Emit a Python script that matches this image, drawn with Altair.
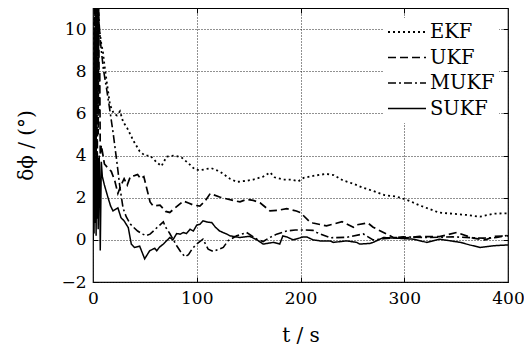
import altair as alt
import pandas as pd

# ---------------- data ----------------
EKF_T = [0, 0.5, 1, 1.5, 2, 2.5, 3, 3.5, 4, 5, 6, 7, 8, 9.6, 11, 13.5, 16.4, 20, 23, 26, 29, 33, 39, 45,
         50, 55, 61, 66, 71, 79, 85.5, 91.6, 98, 103, 108, 114, 122, 132, 138.5, 148, 154.5, 164, 170.6,
         175, 183, 191.5, 198, 203, 214, 225, 232, 241, 251, 260.5, 270, 281, 292.7, 299, 305.5, 315,
         325, 333, 344, 360, 373, 386, 397, 400]
EKF_Y = [0, 5, 10.5, 3, 11.5, 6, 11.5, 8, 11.2, 10.6, 10.0, 9.7, 9.3, 8.9, 8.3, 7.4, 6.4, 6.0, 5.9, 6.1,
         5.6, 5.3, 4.7, 4.2, 4.0, 4.0, 3.7, 3.5, 3.95, 4.0, 3.9, 3.65, 3.35, 3.3, 3.35, 3.4, 3.25, 2.9,
         2.75, 2.8, 2.86, 3.0, 3.2, 2.97, 2.86, 2.86, 2.78, 2.94, 3.05, 3.13, 3.07, 2.82, 2.66, 2.47, 2.32,
         2.12, 2.05, 1.95, 1.84, 1.63, 1.45, 1.3, 1.25, 1.18, 1.1, 1.24, 1.26, 1.26]

UKF_T = [0, 0.5, 1, 1.5, 2, 2.5, 3, 3.5, 4, 4.5, 5, 5.5, 6, 6.5, 7, 8, 11, 14.5, 17.6, 21, 24, 27, 30,
         33, 36, 40, 43, 46, 49, 52, 55, 58, 64.6, 70, 74, 80, 87, 92, 96.7, 103, 108, 113, 122, 135,
         141.7, 148, 154.5, 161, 170.6, 178, 186.7, 196, 200, 209, 212, 225, 240, 251, 254, 265, 270,
         280, 289.5, 302, 315, 334, 350.5, 366.5, 378, 387.5, 400]
UKF_Y = [0, 8, 2, 11.5, 4, 11.5, 3, 10, 2, 9, 5, 11.5, 6, 8, 4, 4.5, 3.6, 3.4, 3.25, 2.8, 2.2, 2.6, 2.9,
         2.6, 3.0, 3.05, 3.1, 2.9, 3.0, 2.4, 1.8, 1.6, 1.65, 1.35, 1.3, 1.55, 1.84, 1.75, 1.65, 1.6, 1.84,
         2.2, 2.03, 1.87, 1.8, 1.92, 1.87, 1.76, 1.37, 1.4, 1.48, 1.37, 1.29, 0.85, 0.8, 0.66, 0.86, 0.6,
         0.71, 0.8, 0.6, 0.35, 0.11, 0.1, 0.16, 0.15, 0.35, 0.08, 0.0, 0.17, 0.19]

MUKF_T = [0, 0.5, 1, 1.5, 2, 2.5, 3, 3.5, 4, 4.5, 5, 5.5, 6, 7, 8, 10, 13, 16.4, 19.6, 23, 26, 29, 32,
          36, 39, 43, 48, 51, 55, 61, 67.8, 70, 74, 80.7, 85, 88.7, 92, 96, 100, 106, 111, 116, 121,
          125.6, 130, 138.5, 148, 158, 164, 170, 177, 186.7, 195, 202.7, 212, 215.6, 228.4, 244.5,
          260.5, 270, 280, 299, 321.6, 347, 376, 389, 400]
MUKF_Y = [0, 6, 1, 9, 2, 10.5, 4, 11.5, 6, 11.2, 9, 10.8, 10.2, 9.5, 9.0, 8.1, 7.2, 6.1, 5.0, 3.7, 2.47,
          1.5, 1.1, 0.75, 0.6, 0.42, 0.27, 0.2, 0.27, 0.55, 0.85, 0.6, 0.3, -0.28, -0.6, -0.8, -0.7, -0.4,
          -0.2, 0.03, -0.44, -0.55, -0.45, -0.36, -0.05, 0.19, 0.35, 0.03, -0.08, 0.1, 0.27, 0.42, 0.47,
          0.47, 0.45, 0.35, 0.1, 0.12, 0.28, 0.0, 0.05, 0.14, 0.11, 0.14, 0.08, 0.11, 0.22]

SUKF_T = [0, 0.5, 1, 1.5, 2, 2.5, 3, 3.5, 4, 4.5, 5, 5.5, 6, 6.5, 7, 7.5, 8, 9, 11, 14.5, 17, 19.3, 24,
          27, 30, 34, 36.9, 40, 45, 49.8, 54.6, 59.5, 61.4, 64, 67.8, 74, 77, 80.7, 84, 87, 90, 93.5,
          96.7, 100, 103, 106, 109.6, 114.4, 118, 122, 129, 132, 141.7, 151, 158, 164, 174, 180, 183,
          186.7, 193, 202.7, 206, 212, 219, 228.4, 231.6, 244.5, 254, 257, 267, 270, 280, 292.7, 309,
          321.6, 334, 345, 354, 363, 373, 386, 400]
SUKF_Y = [0, 3.5, 0.3, 4.0, 0.8, 3.8, 0.2, 4.1, 1.0, 3.9, 0.5, 3.0, 4.0, 2.5, -0.5, 1.5, 3.7, 3.0, 2.6,
          2.0, 1.6, 1.37, 1.52, 1.05, 0.9, 0.58, -0.2, -0.36, -0.3, -0.9, -0.52, -0.4, -0.52, -0.35,
          -0.2, 0.11, 0.0, 0.3, 0.27, 0.35, 0.3, 0.5, 0.42, 0.7, 0.74, 0.9, 0.85, 0.82, 0.6, 0.42, 0.27,
          0.19, 0.11, 0.17, 0.0, -0.2, -0.12, -0.2, 0.19, 0.14, 0.0, 0.14, 0.14, 0.0, -0.05, -0.05,
          -0.12, -0.05, -0.12, -0.2, -0.17, -0.12, 0.11, 0.08, 0.03, -0.12, 0.03, -0.05, -0.12, -0.24,
          -0.36, -0.28, -0.24]

SERIES = ["EKF", "UKF", "MUKF", "SUKF"]
X_TICKS = [0, 100, 200, 300, 400]
Y_TICKS = [-2, 0, 2, 4, 6, 8, 10]

frames = []
for name, ts, ys in [("EKF", EKF_T, EKF_Y), ("UKF", UKF_T, UKF_Y),
                     ("MUKF", MUKF_T, MUKF_Y), ("SUKF", SUKF_T, SUKF_Y)]:
    frames.append(pd.DataFrame({"t": ts, "v": ys, "series": name}))
df = pd.concat(frames, ignore_index=True)

FONT = "DejaVu Serif"
xs = alt.Scale(domain=[0, 400], nice=False, zero=False)
ys_ = alt.Scale(domain=[-2, 11], nice=False, zero=False)

main_x_axis = alt.Axis(values=X_TICKS, tickSize=0, domain=False, grid=True, labelFlush=False,
                       gridDash=[1, 2], gridColor="#222", gridWidth=1,
                       labelFontSize=17, labelColor="black", labelPadding=8,
                       title="t / s", titleFontSize=20, titleFontWeight="normal",
                       titleColor="black", titlePadding=19)
main_y_axis = alt.Axis(values=Y_TICKS, tickSize=0, domain=False, grid=True, labelFlush=False,
                       gridDash=[1, 2], gridColor="#222", gridWidth=1,
                       labelFontSize=17, labelColor="black", labelPadding=7,
                       title="δϕ / (°)", titleFontSize=20, titleFontWeight="normal",
                       titleColor="black", titlePadding=24)

lines = alt.Chart(df).mark_line(clip=True, color="black").encode(
    x=alt.X("t:Q", scale=xs, axis=main_x_axis),
    y=alt.Y("v:Q", scale=ys_, axis=main_y_axis),
    strokeDash=alt.StrokeDash(
        "series:N",
        scale=alt.Scale(domain=SERIES, range=[[2, 3], [8, 4], [8, 3, 2, 3], [1, 0]]),
        legend=alt.Legend(title=None, orient="none", legendX=290, legendY=10,
                          symbolType="stroke", symbolSize=1444, symbolStrokeWidth=1.6,
                          symbolStrokeColor="black", clipHeight=20, rowPadding=5.5,
                          labelFontSize=19.5, labelColor="black", labelOffset=3,
                          fillColor="white", padding=4)),
    strokeWidth=alt.StrokeWidth("series:N",
                                scale=alt.Scale(domain=SERIES, range=[1.8, 1.5, 1.5, 2.0]),
                                legend=None),
)

ticks_a = alt.Chart(df).mark_line(opacity=0).encode(
    x=alt.X("t:Q", scale=xs, axis=alt.Axis(values=[100, 200, 300], orient="top", offset=-5,
                                           tickSize=5, tickColor="black", labels=False,
                                           domain=False, grid=False, title=None)),
    y=alt.Y("v:Q", scale=ys_, axis=alt.Axis(values=Y_TICKS, orient="right", offset=-5, tickSize=5,
                                            tickColor="black", labels=False, domain=False,
                                            grid=False, title=None)),
)
ticks_b = alt.Chart(df).mark_line(opacity=0).encode(
    x=alt.X("t:Q", scale=xs, axis=alt.Axis(values=[100, 200, 300], orient="bottom", offset=-5,
                                           tickSize=5, tickColor="black", labels=False,
                                           domain=False, grid=False, title=None)),
    y=alt.Y("v:Q", scale=ys_, axis=alt.Axis(values=Y_TICKS, orient="left", offset=-5, tickSize=5,
                                            tickColor="black", labels=False, domain=False,
                                            grid=False, title=None)),
)

chart = alt.layer(lines, ticks_a, ticks_b).resolve_axis(
    x="independent", y="independent"
).properties(
    width=415, height=274,
    autosize=alt.AutoSizeParams(type="none"),
    padding={"left": 85, "top": 0, "right": 16, "bottom": 66},
    background="white",
).configure(font=FONT).configure_axis(
    labelFont=FONT, titleFont=FONT
).configure_legend(labelFont=FONT).configure_view(stroke="black", strokeWidth=1.2)

chart.save("out.html", embed_options={"renderer": "svg", "actions": False})
